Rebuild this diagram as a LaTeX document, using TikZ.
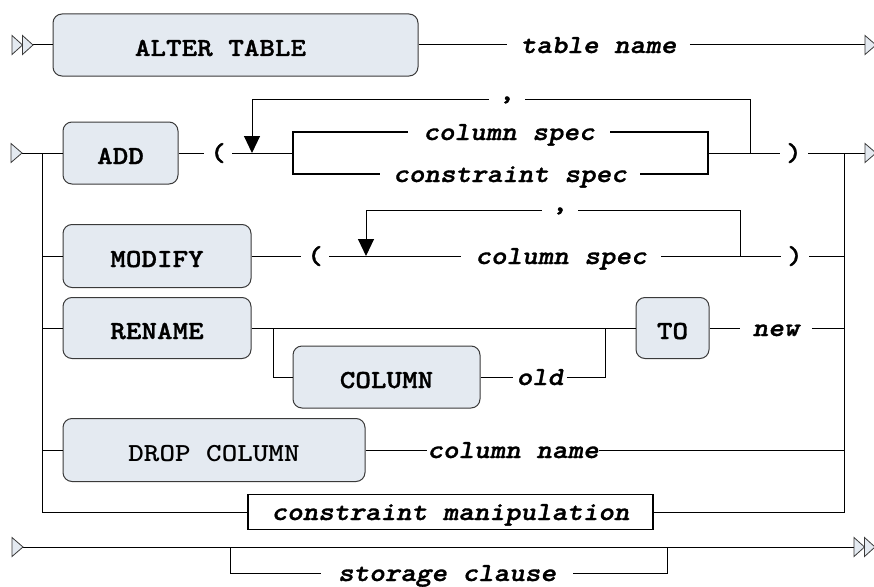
\documentclass[tikz,border=0pt]{standalone}
\usepackage{fontspec}
\usepackage{tikz}
\usetikzlibrary{arrows.meta,positioning}
\newfontfamily\railfont{lmmonolt10-regular.otf}[FakeStretch=1.14,BoldFont=lmmonolt10-bold.otf,ItalicFont=lmmonolt10-oblique.otf,BoldItalicFont=lmmonolt10-boldoblique.otf,BoldFeatures={FakeBold=1.2},BoldItalicFeatures={FakeBold=1.2}]
\newfontfamily\railplain{lmmonolt10-bold.otf}[FakeStretch=1.14]
\newcommand\kwfont{\railfont\bfseries\fontsize{26}{30}\selectfont}
\newcommand\kwlight{\railplain\fontsize{26}{30}\selectfont}
\newcommand\idfont{\railfont\bfseries\itshape\fontsize{26}{30}\selectfont}
\definecolor{boxfill}{HTML}{E4EAF1}
\definecolor{boxline}{HTML}{3A3A3A}
\tikzset{
  railtip/.pic={\draw[draw=boxline,fill=boxfill,line width=0.8pt] (0,-9.5) -- (11,0) -- (0,9.5) -- cycle;},
  railtiptwo/.pic={\draw[draw=boxline,fill=boxfill,line width=0.8pt] (0,-9.5) -- (10.5,0) -- (0,9.5) -- cycle (10.5,-9.5) -- (21,0) -- (10.5,9.5) -- cycle;}
}
\begin{document}
\begin{tikzpicture}[x=1pt,y=-1pt,line width=1pt,
  kw/.style={draw=boxline,fill=boxfill,rounded corners=9pt,font=\kwfont,text height=22pt,text depth=0pt,inner sep=0pt},
  ident/.style={font=\idfont,text height=17pt,text depth=1pt,inner ysep=0pt,inner xsep=13pt},
  paren/.style={font=\kwfont,text height=17pt,text depth=1pt,inner ysep=0pt,inner xsep=6pt},
  delim/.style={font=\kwfont,text height=2pt,text depth=0pt,inner ysep=0pt,inner xsep=10pt},
  brk/.style={line width=2pt},
  loopback/.style={-{Triangle[width=16pt,length=17pt]}}]
\useasboundingbox (0,0) rectangle (874,586);

\node[kw,minimum width=365pt,minimum height=62pt] (alter) at (235.5,45) {ALTER TABLE\rule{30pt}{0pt}};
\node[ident] (tname) at (598.5,45) {table name};
\node[kw,minimum width=115pt,minimum height=62pt] (add) at (120.5,153) {ADD};
\node[paren] (lp1) at (218,153) {(};
\node[ident,inner xsep=15pt] (cspec1) at (509,132) {column spec};
\node[ident] (cons) at (510,174) {constraint spec};
\node[paren] (rp1) at (794,153) {)};
\node[delim] (com1) at (507,99) {,};
\node[kw,minimum width=188pt,minimum height=63pt] (modify) at (157,256) {MODIFY};
\node[paren] (lp2) at (315,256) {(};
\node[ident,inner xsep=14pt] (cspec2) at (561,256) {column spec};
\node[paren] (rp2) at (795,256) {)};
\node[delim] (com2) at (560,210) {,};
\node[kw,minimum width=188pt,minimum height=61pt] (rename) at (157,328) {RENAME};
\node[kw,minimum width=187pt,minimum height=62pt] (column) at (386.5,377) {COLUMN};
\node[ident,inner xsep=3pt] (old) at (540,377) {old};
\node[kw,minimum width=73pt,minimum height=61pt] (to) at (672.5,328) {TO};
\node[ident,inner xsep=12pt] (new) at (776,328) {new};
\node[kw,font=\kwlight,minimum width=302pt,minimum height=63pt] (drop) at (214,450) {DROP COLUMN};
\node[ident,inner xsep=0pt] (cname) at (513,450) {column name};
\node[ident,draw,line width=1.6pt,inner ysep=8.5pt,minimum width=405pt] (cmanip) at (450.5,512) {constraint manipulation};
\node[ident,inner xsep=17pt] (storage) at (447,573) {storage clause};

\coordinate (s1) at (33,45);
\coordinate (e1) at (865,45);
\coordinate (s2) at (22,153);
\coordinate (e2) at (865,153);
\coordinate (lbus) at (42,153);
\coordinate (rbus) at (844,153);
\coordinate (bj1) at (293,153);
\coordinate (bj2) at (708,153);
\coordinate (lj1) at (252,153);
\coordinate (rj1) at (750,153);
\coordinate (lj2) at (366,256);
\coordinate (rj2) at (740,256);
\coordinate (rb1) at (273,328);
\coordinate (rb2) at (605,328);
\coordinate (s4) at (23,547);
\coordinate (e4) at (854,547);
\coordinate (sb1) at (230,547);
\coordinate (sb2) at (667,547);

\draw (s1) -- (alter);
\draw (alter) -- (tname);
\draw (tname) -- (e1);
\draw (s2) -- (add);
\draw (add) -- (lp1);
\draw (lp1) -- (bj1);
\draw[brk] (bj1) |- (cspec1) (cspec1) -| (bj2);
\draw[brk] (bj1) |- (cons) (cons) -| (bj2);
\draw (bj2) -- (rp1);
\draw (rp1) -- (e2);
\draw (rj1) |- (com1);
\draw[loopback] (com1) -| (lj1);

\draw (lbus |- modify) -- (modify);
\draw (modify) -- (lp2);
\draw (lp2) -- (cspec2);
\draw (cspec2) -- (rp2);
\draw (rp2) -- (rp2 -| rbus);
\draw (rj2) |- (com2);
\draw[loopback] (com2) -| (lj2);

\draw (lbus |- rename) -- (rename);
\draw (rename) -- (to);
\draw (rb1) |- (column);
\draw (column) -- (old);
\draw (old) -| (rb2);
\draw (to) -- (new);
\draw (new) -- (new -| rbus);

\draw (lbus |- drop) -- (drop);
\draw (drop) -- (cname);
\draw (cname) -- (cname -| rbus);
\draw (lbus) |- (cmanip);
\draw (cmanip) -| (rbus);

\draw (s4) -- (e4);
\draw (sb1) |- (storage);
\draw (storage) -| (sb2);

\pic at (12,45) {railtiptwo};
\pic at (865,45) {railtip};
\pic at (11,153) {railtip};
\pic at (865,153) {railtip};
\pic at (12,547) {railtip};
\pic at (854,547) {railtiptwo};

\end{tikzpicture}
\end{document}
